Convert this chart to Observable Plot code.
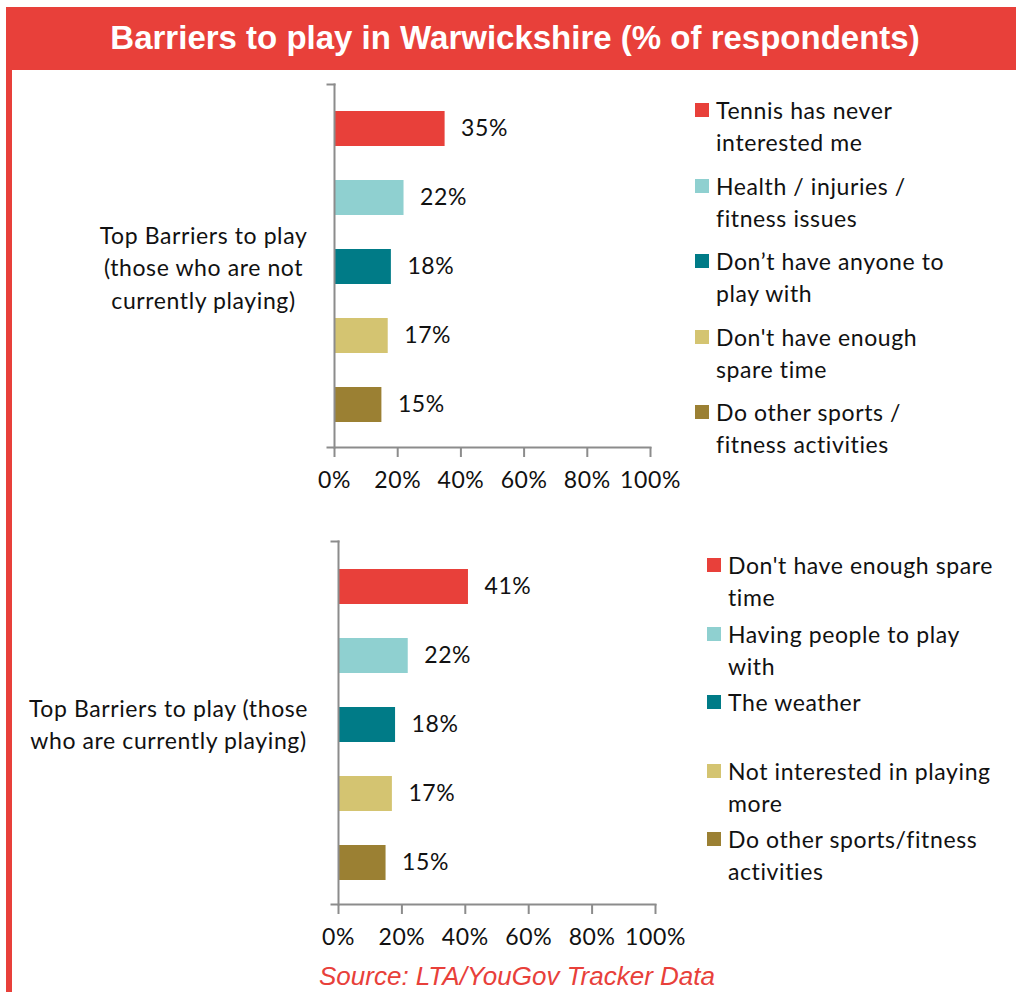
<!DOCTYPE html>
<html>
<head>
<meta charset="utf-8">
<script src="https://cdn.jsdelivr.net/npm/d3@7"></script>
<script src="https://cdn.jsdelivr.net/npm/@observablehq/plot@0.6"></script>
<style>
  html, body { margin: 0; padding: 0; background: #fff; }
  #page { position: relative; width: 1016px; height: 992px; overflow: hidden; background: #fff; font-family: Lato, "Open Sans", sans-serif; }
  .abs { position: absolute; }
  #titlebar { left: 6px; top: 7px; right: 0; height: 63px; background: #E8403A; color: #fff;
    font: bold 33px "Liberation Sans", Arial, sans-serif; text-align: center; line-height: 62px; z-index: 3; padding-left: 8px; box-sizing: border-box; white-space: nowrap; }
  #border { left: 6px; top: 70px; width: 6px; bottom: 0; background: #E8403A; z-index: 3; }
  #source { left: 0; width: 1034px; top: 961px; line-height: 30px; text-align: center;
    font: italic 26px "Liberation Sans", Arial, sans-serif; color: #E8403A; }
  .leg { position: absolute; font-size: 23px; line-height: 32px; color: #111; white-space: nowrap; letter-spacing: 0.6px; }
  .sw { position: absolute; width: 14px; height: 14px; }
</style>
</head>
<body>
<div id="page">
  <div id="titlebar" class="abs"></div>
  <div id="border" class="abs"></div>
  <div id="chart1" class="abs" style="left:0;top:0;"></div>
  <div id="chart2" class="abs" style="left:0;top:500px;"></div>
  <div id="legend1"></div>
  <div id="legend2"></div>
  <div id="source" class="abs"></div>
</div>
<script>
const titleText = "Barriers to play in Warwickshire (% of respondents)";
const sourceText = "Source: LTA/YouGov Tracker Data";

const categoryNotPlaying = "Top Barriers to play\n(those who are not\ncurrently playing)";
const categoryPlaying = "Top Barriers to play (those\nwho are currently playing)";

const barriersNotPlaying = [
  "Tennis has never\ninterested me",
  "Health / injuries /\nfitness issues",
  "Don\u2019t have anyone to\nplay with",
  "Don't have enough\nspare time",
  "Do other sports /\nfitness activities"
];
const valuesNotPlaying = [35, 22, 18, 17, 15];

const barriersPlaying = [
  "Don't have enough spare\ntime",
  "Having people to play\nwith",
  "The weather",
  "Not interested in playing\nmore",
  "Do other sports/fitness\nactivities"
];
const valuesPlaying = [41, 22, 18, 17, 15];

const seriesColors = ["#E8403A", "#8FD0D0", "#007B87", "#D4C471", "#9B8033"];
const xTicks = [0, 20, 40, 60, 80, 100];
const axisGray = "#8C8C8C";

document.getElementById("titlebar").textContent = titleText;
document.getElementById("source").textContent = sourceText;

function makeChart(names, values, category, opts) {
  const data = names.map((n, i) => ({name: n, value: values[i], idx: i}));
  const frameW = opts.width - opts.marginLeft - opts.marginRight;
  return Plot.plot({
    width: opts.width,
    height: opts.height,
    marginLeft: opts.marginLeft,
    marginRight: opts.marginRight,
    marginTop: opts.marginTop,
    marginBottom: opts.marginBottom,
    style: {fontFamily: "Lato, 'Open Sans', sans-serif", fontSize: "23px", letterSpacing: "0.6px", background: "transparent", color: "#111", overflow: "visible"},
    x: {domain: [0, 100], ticks: xTicks, tickFormat: d => d + "%"},
    y: {domain: names, range: opts.yRange, paddingInner: 0.5, paddingOuter: 0.25, axis: null},
    color: {domain: names, range: seriesColors},
    marks: [
      Plot.barX(data, {x: "value", y: "name", fill: "name"}),
      Plot.text(data, {x: "value", y: "name", text: d => d.value + "%", dx: 16, textAnchor: "start", fill: "#111"}),
      Plot.frame({anchor: "left", stroke: axisGray, strokeWidth: 2}),
      Plot.frame({anchor: "bottom", stroke: axisGray, strokeWidth: 2, insetLeft: -7}),
      Plot.frame({anchor: "top", stroke: axisGray, strokeWidth: 2, insetLeft: -7, insetRight: frameW}),
      Plot.axisX({ticks: xTicks, tickFormat: d => d + "%", tickSize: 10, tickPadding: 14, stroke: axisGray, strokeWidth: 2, fill: "#111", label: null}),
      Plot.text([category], {frameAnchor: "left", dx: opts.catDx, textAnchor: "middle", lineHeight: 1.4, fill: "#111"})
    ]
  });
}

document.getElementById("chart1").appendChild(makeChart(barriersNotPlaying, valuesNotPlaying, categoryNotPlaying, {
  width: 680, height: 500, marginLeft: 334, marginRight: 30, marginTop: 84, marginBottom: 53,
  yRange: [93.5, 438.5], catDx: -131
}));
document.getElementById("chart2").appendChild(makeChart(barriersPlaying, valuesPlaying, categoryPlaying, {
  width: 680, height: 492, marginLeft: 338, marginRight: 25, marginTop: 41, marginBottom: 88,
  yRange: [50.25, 397.75], catDx: -170
}));

function makeLegend(id, names, swX, textX, firstCenter, step) {
  const el = document.getElementById(id);
  names.forEach((n, i) => {
    const cy = firstCenter + i * step;
    const sw = document.createElement("div");
    sw.className = "sw";
    sw.style.left = swX + "px";
    sw.style.top = (cy - 7) + "px";
    sw.style.background = seriesColors[i];
    el.appendChild(sw);
    const t = document.createElement("div");
    t.className = "leg";
    t.style.left = textX + "px";
    t.style.top = (cy - 16) + "px";
    n.split("\n").forEach((line, j) => {
      if (j) t.appendChild(document.createElement("br"));
      t.appendChild(document.createTextNode(line));
    });
    el.appendChild(t);
  });
}
makeLegend("legend1", barriersNotPlaying, 695, 716, 110, 75.5);
makeLegend("legend2", barriersPlaying, 707, 728, 565, 68.5);
</script>
</body>
</html>
